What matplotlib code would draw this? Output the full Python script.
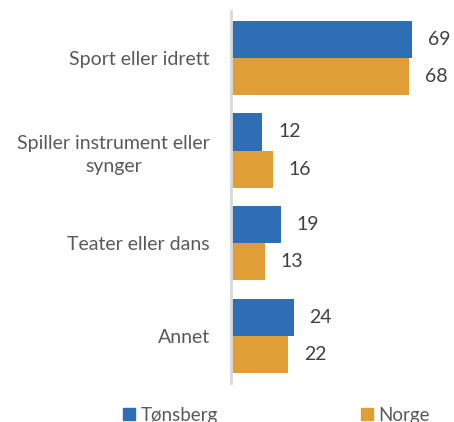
import matplotlib
matplotlib.use("Agg")
import matplotlib.pyplot as plt
from matplotlib.patches import Rectangle
import numpy as np

categories = ["Sport eller idrett", "Spiller instrument eller\nsynger", "Teater eller dans", "Annet"]
series_names = ["Tønsberg", "Norge"]
tonsberg = [69, 12, 19, 24]
norge = [68, 16, 13, 22]

blue = "#2E6EB5"
orange = "#DF9F36"
label_gray = "#595959"
value_gray = "#404040"

plt.rcParams["font.family"] = ["Lato", "DejaVu Sans"]

W, H = 454, 422
fig = plt.figure(figsize=(W / 100, H / 100), dpi=100)
left = 230.5 / W
right = (230.5 + 2.632 * 80) / W
top = 1 - 11.3 / H
bottom = 1 - 382.6 / H
ax = fig.add_axes([left, bottom, right - left, top - bottom])

y = np.arange(len(categories))
h = 0.40
b1 = ax.barh(y - h / 2, tonsberg, height=h, color=blue)
b2 = ax.barh(y + h / 2, norge, height=h, color=orange)

for bars, vals in ((b1, tonsberg), (b2, norge)):
    for bar, v in zip(bars, vals):
        ax.annotate(str(v), (bar.get_width(), bar.get_y() + bar.get_height() / 2),
                    xytext=(11.5, 0), textcoords="offset points",
                    ha="left", va="center", fontsize=14, color=value_gray)

ax.set_xlim(0, 80)
ax.set_ylim(len(categories) - 0.5, -0.5)
ax.set_xticks([])
ax.set_yticks(y)
ax.set_yticklabels(categories, fontsize=14, color=label_gray)
for t in ax.get_yticklabels():
    t.set_multialignment("center")
    t.set_linespacing(1.45)
ax.tick_params(axis="y", length=0, pad=15)
for s in ("top", "right", "bottom"):
    ax.spines[s].set_visible(False)
ax.spines["left"].set_color("#D9D9D9")
ax.spines["left"].set_linewidth(2)

# legend drawn along the bottom edge of the figure
legend_items = [(123, 141, blue), (361, 378, orange)]
for (sx, tx, col), name in zip(legend_items, series_names):
    fig.add_artist(Rectangle((sx / W, 2 / H), 12 / W, 12 / H,
                             transform=fig.transFigure, color=col))
    fig.text(tx / W, 1.5 / H, name, fontsize=13.5, color=label_gray,
             ha="left", va="baseline")

fig.savefig("out.png", dpi=100)
